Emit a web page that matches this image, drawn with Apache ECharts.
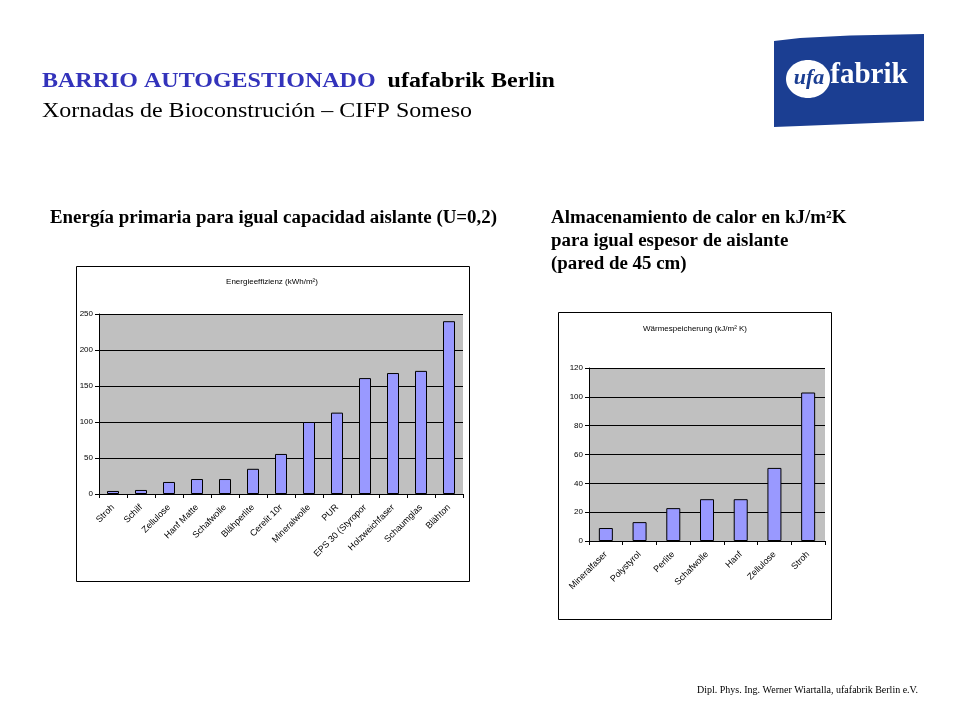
<!DOCTYPE html>
<html><head><meta charset="utf-8">
<script src="https://cdn.jsdelivr.net/npm/echarts@6/dist/echarts.min.js"></script>
<style>html,body{margin:0;padding:0;background:#fff}#c{width:960px;height:720px}</style>
</head><body><div id="c"></div>
<script>
var energyCategories = ["Stroh","Schilf","Zellulose","Hanf Matte","Schafwolle","Blähperlite","Cerelit 10r","Mineralwolle","PUR","EPS 30 (Styropor","Holzweichfaser","Schaumglas","Blähton"];
var energyValues = [4.2, 5.6, 16.7, 20.8, 20.8, 35, 55.6, 100, 113, 161, 168, 171, 240];
var energyTicks = [0, 50, 100, 150, 200, 250];
var heatCategories = ["Mineralfaser","Polystyrol","Perlite","Schafwolle","Hanf","Zellulose","Stroh"];
var heatValues = [9, 13.1, 22.8, 29, 29, 50.7, 103];
var heatTicks = [0, 20, 40, 60, 80, 100, 120];

var chart = echarts.init(document.getElementById('c'), null, {renderer:'canvas'});
var lab = {fontFamily:'Liberation Sans, Arial', fontSize:9, color:'#000'};
function xAxis(idx, cats){
  return {type:'category', gridIndex:idx, data:cats,
    axisLine:{lineStyle:{color:'#000',width:1}},
    axisTick:{show:true, alignWithLabel:false, length:4, lineStyle:{color:'#000'}},
    axisLabel:Object.assign({rotate:45, interval:0, margin:12}, lab)};
}
function yAxis(idx, ticks){
  return {type:'value', gridIndex:idx, min:ticks[0], max:ticks[ticks.length-1], interval:ticks[1]-ticks[0],
    axisLine:{show:true, lineStyle:{color:'#000',width:1}},
    axisTick:{show:true, length:4, lineStyle:{color:'#000'}},
    splitLine:{show:true, lineStyle:{color:'#000',width:1}},
    axisLabel:Object.assign({margin:6}, lab, {fontSize:8})};
}
var option = {
  animation:false,
  backgroundColor:'#fff',
  grid:[
    {left:99, top:314, width:364, height:180, show:true, backgroundColor:'#c0c0c0', borderWidth:0},
    {left:589, top:368, width:236, height:173, show:true, backgroundColor:'#c0c0c0', borderWidth:0}
  ],
  xAxis:[xAxis(0, energyCategories), xAxis(1, heatCategories)],
  yAxis:[yAxis(0, energyTicks), yAxis(1, heatTicks)],
  series:[
    {type:'bar', xAxisIndex:0, yAxisIndex:0, data:energyValues, barWidth:12,
     itemStyle:{color:'#9999ff', borderColor:'#000', borderWidth:1}},
    {type:'bar', xAxisIndex:1, yAxisIndex:1, data:heatValues, barWidth:14,
     itemStyle:{color:'#9999ff', borderColor:'#000', borderWidth:1}}
  ],
  graphic:[
    {type:'rect', shape:{x:76.5,y:266.5,width:393,height:315}, style:{fill:'none', stroke:'#000', lineWidth:1}, z:-1},
    {type:'rect', shape:{x:558.5,y:312.5,width:273,height:307}, style:{fill:'none', stroke:'#000', lineWidth:1}, z:-1},
    {type:'text', x:272, y:282, style:{text:'Energieeffizienz (kWh/m²)', font:'8px Liberation Sans', fill:'#000', align:'center', verticalAlign:'middle'}},
    {type:'text', x:695, y:329, style:{text:'Wärmespeicherung (kJ/m² K)', font:'8px Liberation Sans', fill:'#000', align:'center', verticalAlign:'middle'}},
    {type:'text', x:42, y:82, scaleX:1.2, style:{rich:{a:{font:'bold 20px Liberation Serif', fill:'#3333bb'}, b:{font:'bold 20px Liberation Serif', fill:'#000'}}, text:'{a|BARRIO AUTOGESTIONADO}{b|  ufafabrik Berlin}', verticalAlign:'middle'}},
    {type:'text', x:42, y:112, scaleX:1.2, style:{text:'Xornadas de Bioconstrución – CIFP Someso', font:'20px Liberation Serif', fill:'#000', verticalAlign:'middle'}},
    {type:'text', x:50, y:218, scaleX:1.05, style:{text:'Energía primaria para igual capacidad aislante (U=0,2)', font:'bold 18px Liberation Serif', fill:'#000', verticalAlign:'middle'}},
    {type:'text', x:551, y:218, scaleX:1.05, style:{text:'Almacenamiento de calor en kJ/m²K', font:'bold 18px Liberation Serif', fill:'#000', verticalAlign:'middle'}},
    {type:'text', x:551, y:241, scaleX:1.05, style:{text:'para igual espesor de aislante', font:'bold 18px Liberation Serif', fill:'#000', verticalAlign:'middle'}},
    {type:'text', x:551, y:264, scaleX:1.05, style:{text:'(pared de 45 cm)', font:'bold 18px Liberation Serif', fill:'#000', verticalAlign:'middle'}},
    {type:'text', x:697, y:690, style:{text:'Dipl. Phys. Ing. Werner Wiartalla, ufafabrik Berlin e.V.', font:'10px Liberation Serif', fill:'#000', verticalAlign:'middle'}},
    {type:'polygon', shape:{points:[[774,41],[800,38],[850,35.5],[900,34.5],[924,34],[924,121],[900,122],[850,124],[800,126],[774,127]]}, style:{fill:'#1b3e92'}},
    {type:'ellipse', shape:{cx:808, cy:79, rx:22, ry:19}, style:{fill:'#fff'}},
    {type:'text', x:809, y:78, style:{text:'ufa', font:'italic bold 22px Liberation Serif', fill:'#1b3e92', align:'center', verticalAlign:'middle'}},
    {type:'text', x:869, y:76, style:{text:'fabrik', font:'bold 29px Liberation Serif', fill:'#fff', align:'center', verticalAlign:'middle'}}
  ]
};
chart.setOption(option);
</script></body></html>
